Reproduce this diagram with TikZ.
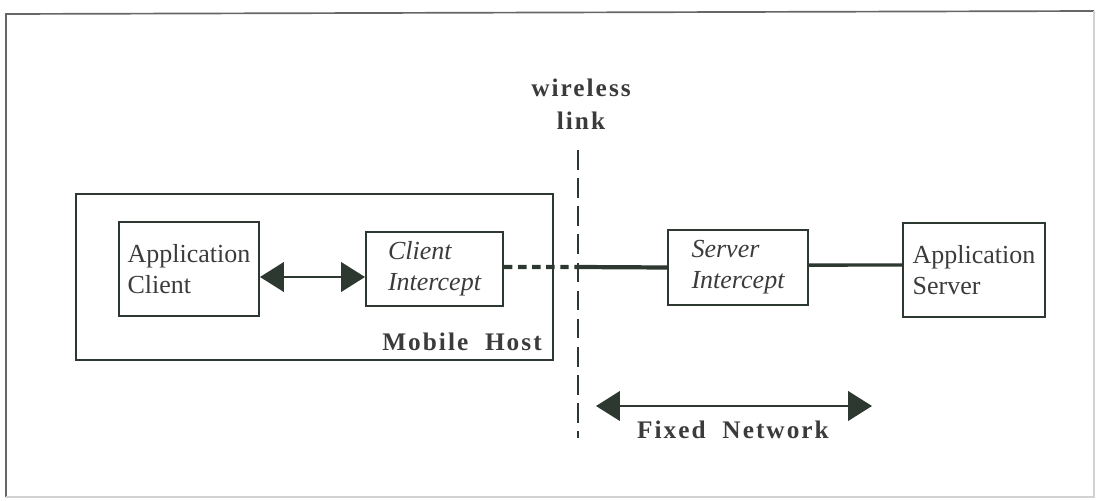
\documentclass[tikz,border=0pt]{standalone}
\usepackage{fontspec}
\setmainfont{Liberation Serif}
\usetikzlibrary{arrows.meta,positioning}

\definecolor{ink}{RGB}{45,56,48}
\definecolor{txt}{RGB}{58,60,58}

\tikzset{
  box/.style={draw=ink, line width=1.4pt, minimum width=3.5cm, minimum height=2.35cm, inner sep=0pt},
  boxtext/.style={text=txt, align=left, font=\fontsize{18.5}{22}\selectfont},
  lbl/.style={text=txt, font=\fontsize{18}{23.5}\selectfont\bfseries\addfontfeatures{LetterSpace=8}}
}

\begin{document}
\begin{tikzpicture}[>={Triangle[length=17pt,width=21pt]}, x=0.025cm, y=-0.025cm]

  % page size and outer frame
  \useasboundingbox (0,0) rectangle (1096,500);
  \draw[gray!80!black, line width=1.2pt] (6,497) -- (6,14) -- (1094,11);
  \draw[gray!35, line width=1pt] (6,497) -- (1094,497) -- (1094,11);

  % mobile host
  \draw[ink, line width=1.4pt] (76,194) rectangle (553,360);
  \node[lbl] (mhlabel) at (462,342) {Mobile\ \ Host};

  % boxes
  \node[box, boxtext] (ac) at (189,269) {Application\\Client};
  \node[box, boxtext, minimum width=3.425cm, minimum height=1.85cm] (ci) at (434.5,269) {\itshape Client\\\itshape Intercept};
  \node[box, boxtext, minimum height=1.875cm] (si) at (738,267.5) {\itshape Server\\\itshape Intercept};
  \node[box, boxtext, minimum width=3.55cm] (as) at (974,270) {Application\\Server};

  % wireless link
  \coordinate (wtop) at (578,150);
  \coordinate (wbot) at (578,438);
  \coordinate (wmid) at (578,267);
  \draw[ink, line width=1.1pt, dash pattern=on 14pt off 6pt] (wtop) -- (wbot);
  \node[lbl, align=center] (wl) at (581,104) {wireless\\link};

  % connectors
  \draw[<->, ink, line width=1.6pt] ([yshift=-0.2cm]ac.east) -- ([yshift=-0.2cm]ci.west);
  \draw[ink, line width=3pt, dash pattern=on 6pt off 4pt] ([yshift=0.05cm]ci.east) -- (wmid);
  \draw[ink, line width=3pt] (wmid) -- (si.west);
  \draw[ink, line width=2.4pt] ([yshift=0.06cm]si.east) -- (as.west |- 0,265);

  % fixed network
  \coordinate (fl) at (596,406);
  \coordinate (fr) at (872,406);
  \draw[<->, ink, line width=1.6pt] (fl) -- (fr);
  \node[lbl] (fnlabel) at (733,430) {Fixed\ \ Network};

\end{tikzpicture}
\end{document}
